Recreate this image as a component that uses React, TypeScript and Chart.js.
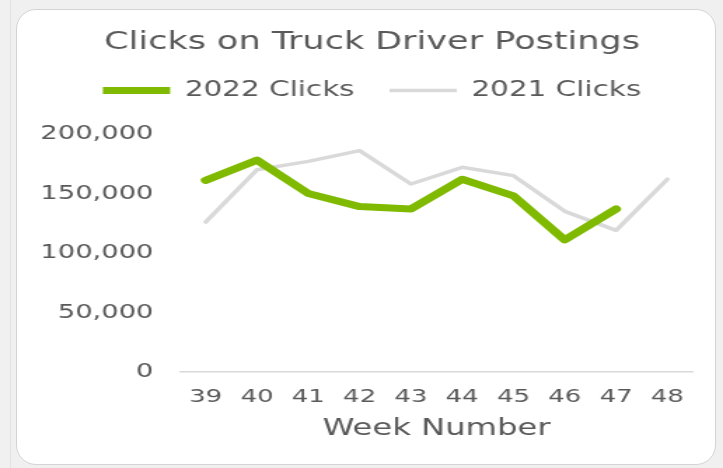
import { useEffect, useRef } from 'react';
import { Chart, registerables } from 'chart.js';

Chart.register(...registerables);

const weeks = ['39', '40', '41', '42', '43', '44', '45', '46', '47', '48'];
const clicks2022 = [161000, 178000, 150000, 139000, 137000, 162000, 148000, 111000, 137000, null];
const clicks2021 = [126000, 170000, 177000, 186000, 158000, 172000, 165000, 135000, 119000, 162000];
const yMax = 200000;
const yStep = 50000;

const TEXT = '#595959';
const GREEN = '#7fba00';
const GREY = '#d9d9d9';

const CSS_W = 723;
const CSS_H = 468;
const INNER_W = 516;

export default function App() {
  const ref = useRef<HTMLCanvasElement>(null);

  useEffect(() => {
    if (!ref.current) return;
    Chart.defaults.font.family = "'DejaVu Sans', Verdana, sans-serif";
    const chart = new Chart(ref.current, {
      type: 'line',
      data: {
        labels: weeks,
        datasets: [
          {
            label: '2022 Clicks',
            data: clicks2022,
            borderColor: GREEN,
            backgroundColor: GREEN,
            borderWidth: 7,
            borderCapStyle: 'round',
            borderJoinStyle: 'round',
            pointRadius: 0,
            pointHoverRadius: 0,
            pointStyle: 'line',
            tension: 0,
          },
          {
            label: '2021 Clicks',
            data: clicks2021,
            borderColor: GREY,
            backgroundColor: GREY,
            borderWidth: 3.5,
            borderCapStyle: 'round',
            borderJoinStyle: 'round',
            pointRadius: 0,
            pointHoverRadius: 0,
            pointStyle: 'line',
            tension: 0,
          },
        ],
      },
      options: {
        responsive: false,
        animation: false,
        devicePixelRatio: 1,
        layout: { padding: { left: 24, right: 9, top: 0, bottom: 25 } },
        plugins: {
          title: {
            display: true,
            text: 'Clicks on Truck Driver Postings',
            color: TEXT,
            font: { size: 25, weight: 'normal', lineHeight: 1 },
            padding: { top: 30, bottom: 0 },
          },
          legend: {
            labels: {
              usePointStyle: true,
              pointStyleWidth: 48,
              color: TEXT,
              font: { size: 21 },
              padding: 25,
            },
          },
          tooltip: { enabled: false },
        },
        scales: {
          x: {
            offset: true,
            grid: { display: false, drawTicks: false },
            border: { display: true, color: GREY, width: 1.5 },
            ticks: { color: TEXT, font: { size: 18.5 }, padding: 14 },
            title: { display: true, text: 'Week Number', color: TEXT, font: { size: 23 }, padding: 0 },
            afterFit: (a: any) => {
              a.height = 71;
            },
          },
          xTop: {
            type: 'category',
            position: 'top',
            display: true,
            grid: { display: false, drawTicks: false },
            border: { display: false },
            ticks: { display: false },
            afterFit: (a: any) => {
              a.height = 23;
            },
          },
          y: {
            min: 0,
            max: yMax,
            grid: { display: false, drawTicks: false },
            border: { display: false },
            ticks: {
              stepSize: yStep,
              color: TEXT,
              font: { size: 19.5 },
              padding: 19,
              callback: (v: any) => Number(v).toLocaleString('en-US'),
            },
            afterFit: (a: any) => {
              a.width = 104.5;
            },
          },
          yRight: {
            type: 'linear',
            position: 'right',
            display: true,
            grid: { display: false, drawTicks: false },
            border: { display: false },
            ticks: { display: false },
            afterFit: (a: any) => {
              a.width = 12.4;
            },
          },
        },
      },
    });
    return () => chart.destroy();
  }, []);

  return (
    <div style={{ position: 'absolute', left: 0, top: 0, width: CSS_W, height: CSS_H, background: '#f0f0f0', overflow: 'hidden' }}>
      <div style={{ position: 'absolute', left: 10, top: 0, width: 1, height: CSS_H, background: '#e2e2e2' }} />
      <div
        style={{
          position: 'absolute',
          left: 16,
          top: 9,
          width: 700,
          height: 456,
          boxSizing: 'border-box',
          border: '1.5px solid #d4d4d4',
          borderRadius: 20,
          background: '#ffffff',
        }}
      />
      <canvas
        ref={ref}
        width={INNER_W}
        height={CSS_H}
        style={{ position: 'absolute', left: 0, top: 0, width: CSS_W + 'px', height: CSS_H + 'px' }}
      />
    </div>
  );
}
